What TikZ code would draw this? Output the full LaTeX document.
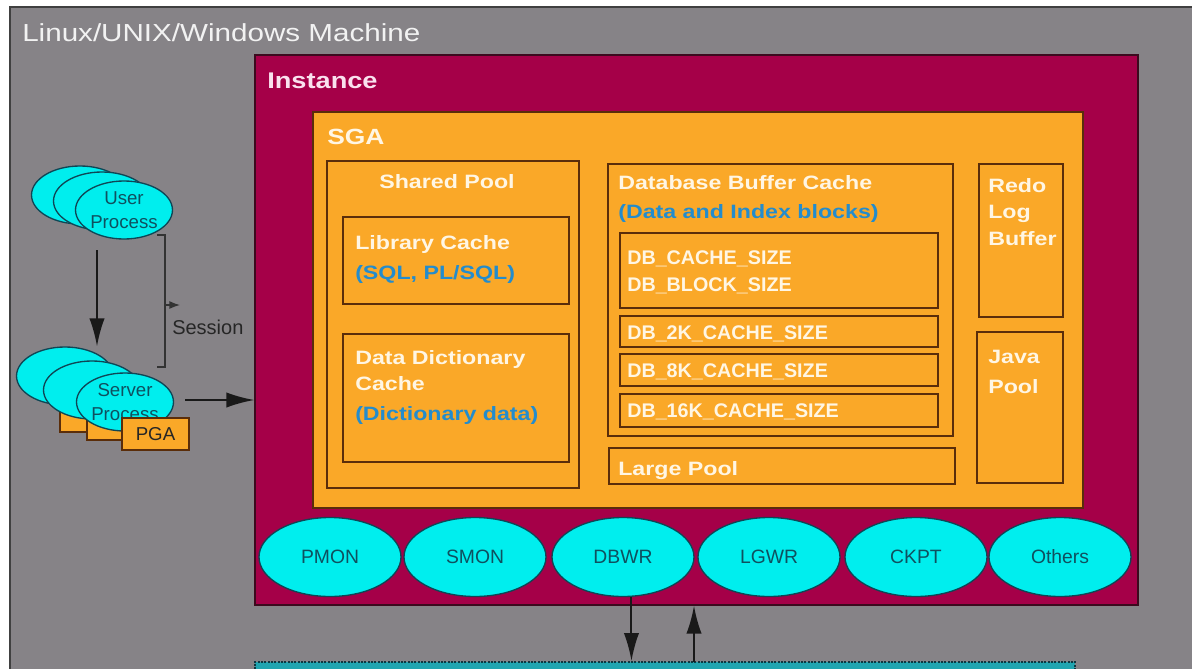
\documentclass[tikz,border=0pt]{standalone}
\usepackage{fontspec}
\setmainfont{Liberation Sans}
\newfontfamily\widefont[FakeStretch=1.2]{Liberation Sans}
\usetikzlibrary{arrows.meta,fit,shapes.geometric}
\definecolor{machinegray}{RGB}{134,131,135}
\definecolor{instred}{RGB}{165,0,72}
\definecolor{instline}{RGB}{60,10,30}
\definecolor{sgaorange}{RGB}{250,168,40}
\definecolor{boxline}{RGB}{90,45,10}
\definecolor{proccyan}{RGB}{0,238,238}
\definecolor{procline}{RGB}{15,70,85}
\definecolor{proctext}{RGB}{15,80,95}
\definecolor{labelcream}{RGB}{255,246,228}
\definecolor{labelpink}{RGB}{250,225,238}
\definecolor{labelblue}{RGB}{35,140,205}
\definecolor{diskteal}{RGB}{32,165,176}
\definecolor{diskline}{RGB}{15,55,65}
\tikzset{
  area/.style={draw=boxline, line width=1.3pt, inner sep=0pt},
  sgatext/.style={anchor=base west, inner sep=0pt, text=labelcream, font=\widefont\bfseries\fontsize{14.5}{20}\selectfont},
  sgablue/.style={sgatext, text=labelblue},
  dbtext/.style={anchor=base west, inner sep=0pt, text=labelcream, font=\bfseries\fontsize{14.8}{20}\selectfont},
  bgproc/.style={ellipse, fill=proccyan, draw=procline, line width=1pt, inner sep=0pt, minimum width=106.5pt, minimum height=59.25pt, text=proctext, font=\fontsize{14.5}{17}\selectfont},
  client/.style={ellipse, fill=proccyan, draw=procline, line width=1pt, inner sep=0pt, minimum width=72.75pt, minimum height=43.5pt, align=center, text=proctext, font=\fontsize{14}{18.5}\selectfont},
  pga/.style={rectangle, fill=sgaorange, draw=boxline, line width=1pt, inner sep=0pt, minimum width=50.25pt, minimum height=24pt, text=black!85, font=\fontsize{14}{17}\selectfont},
  bigarrow/.style={line width=1.5pt, black!90, -{Latex[length=21pt,width=11.5pt]}}
}
\begin{document}
\begin{tikzpicture}[x=0.75pt, y=-0.75pt]
  \fill[white] (0,0) rectangle (1192,668);
  \useasboundingbox (0,0) rectangle (1192,668);
  \clip (0,0) rectangle (1192,668);
  \filldraw[fill=machinegray, draw=black!75, line width=1.5pt] (10,7) rectangle (1260,720);
  \node[anchor=base west, inner sep=0pt, text=black!5, font=\widefont\fontsize{18.5}{22}\selectfont] (machine) at (22,41) {Linux/UNIX/Windows Machine};

  \node[fit={(255,55) (1138,605)}, inner sep=0pt, fill=instred, draw=instline, line width=1pt] (instance) {};
  \node[anchor=base west, inner sep=0pt, text=labelpink, font=\widefont\bfseries\fontsize{17}{20}\selectfont] (instlabel) at (267,88) {Instance};

  \node[fit={(313,112) (1083,508)}, inner sep=0pt, fill=sgaorange, draw=boxline, line width=0.8pt] (sga) {};
  \node[sgatext, font=\widefont\bfseries\fontsize{16.5}{20}\selectfont] (sgalabel) at (327,144) {SGA};

  \node[area, fit={(327,161) (579,488)}] (sharedpool) {};
  \node[sgatext, anchor=base] (sharedlabel) at (447,188) {Shared Pool};
  \node[area, fit={(343,217) (569,304)}] (libcache) {};
  \node[sgatext] (liblabel) at (355,249) {Library Cache};
  \node[sgablue] (libblue) at (355,279) {(SQL, PL/SQL)};
  \node[area, fit={(343,334) (569,462)}] (dictcache) {};
  \node[sgatext, anchor=north west, align=left, font=\widefont\bfseries\fontsize{14.5}{19.5}\selectfont] (dictlabel) at (355,350) {Data Dictionary\\Cache};
  \node[sgablue] (dictblue) at (355,420) {(Dictionary data)};

  \node[area, fit={(608,164) (953,436)}] (buffercache) {};
  \node[sgatext] (bufferlabel) at (618,189) {Database Buffer Cache};
  \node[sgablue] (bufferblue) at (618,218) {(Data and Index blocks)};
  \node[area, fit={(620,233) (938,308)}] (dbcache) {};
  \node[dbtext, anchor=north west, align=left, font=\bfseries\fontsize{14.8}{20.25}\selectfont] (dbcachelabel) at (627,250) {DB\_CACHE\_SIZE\\DB\_BLOCK\_SIZE};
  \node[area, fit={(620,316) (938,347)}] (db2k) {};
  \node[dbtext] (db2klabel) at (627,339) {DB\_2K\_CACHE\_SIZE};
  \node[area, fit={(620,354) (938,386)}] (db8k) {};
  \node[dbtext] (db8klabel) at (627,377) {DB\_8K\_CACHE\_SIZE};
  \node[area, fit={(620,394) (938,427)}] (db16k) {};
  \node[dbtext] (db16klabel) at (627,417) {DB\_16K\_CACHE\_SIZE};
  \node[area, fit={(609,448) (955,484)}] (largepool) {};
  \node[sgatext] (largelabel) at (618,475) {Large Pool};

  \node[area, fit={(979,164) (1063,317)}] (redolog) {};
  \node[sgatext, anchor=north west, align=left, font=\widefont\bfseries\fontsize{14.5}{19.9}\selectfont] (redolabel) at (988,178) {Redo\\Log\\Buffer};
  \node[area, fit={(977,332) (1063,483)}] (javapool) {};
  \node[sgatext, anchor=north west, align=left, font=\widefont\bfseries\fontsize{14.5}{22.5}\selectfont] (javalabel) at (988,350) {Java\\Pool};

  \node[bgproc] (pmon) at (330,557) {PMON};
  \node[bgproc] (smon) at (475,557) {SMON};
  \node[bgproc] (dbwr) at (623,557) {DBWR};
  \node[bgproc] (lgwr) at (769,557) {LGWR};
  \node[bgproc] (ckpt) at (916,557) {CKPT};
  \node[bgproc] (others) at (1060,557) {Others};

  \node[client] (user1) at (80,195) {};
  \node[client] (user2) at (102,201) {};
  \node[client] (user3) at (124,210) {User\\Process};
  \node[client] (server1) at (65,376) {};
  \node[pga] (pga1) at (93.5,416) {};
  \node[client] (server2) at (92,390) {};
  \node[pga] (pga2) at (120.5,424) {};
  \node[client] (server3) at (125,402) {Server\\Process};
  \node[pga] (pga3) at (155.5,434) {PGA};

  \coordinate (userarrow) at (97,250);
  \draw[bigarrow] (userarrow) -- (userarrow |- server1.north);
  \coordinate (sesstop) at (157,235);
  \coordinate (sessbot) at (157,367);
  \draw[line width=1pt, black!80] (sesstop) -- ++(8,0) |- (sessbot);
  \draw[line width=1pt, black!80, -{Latex[length=8pt,width=6pt]}] (165,305) -- ++(15,0);
  \node[anchor=base west, inner sep=0pt, text=black!85, font=\fontsize{15}{18}\selectfont] (session) at (172,334) {Session};
  \coordinate (toinst) at (185,400);
  \draw[bigarrow] (toinst) -- (toinst -| instance.west);

  \node[fit={(255,662) (1075,720)}, inner sep=0pt, fill=diskteal, draw=diskline, densely dotted, line width=1.5pt] (disk) {};
  \draw[bigarrow] (dbwr.-78) -- (dbwr.-78 |- disk.north);
  \coordinate (updisk) at (694,662);
  \draw[bigarrow] (updisk) -- (updisk |- instance.south);
\end{tikzpicture}
\end{document}
